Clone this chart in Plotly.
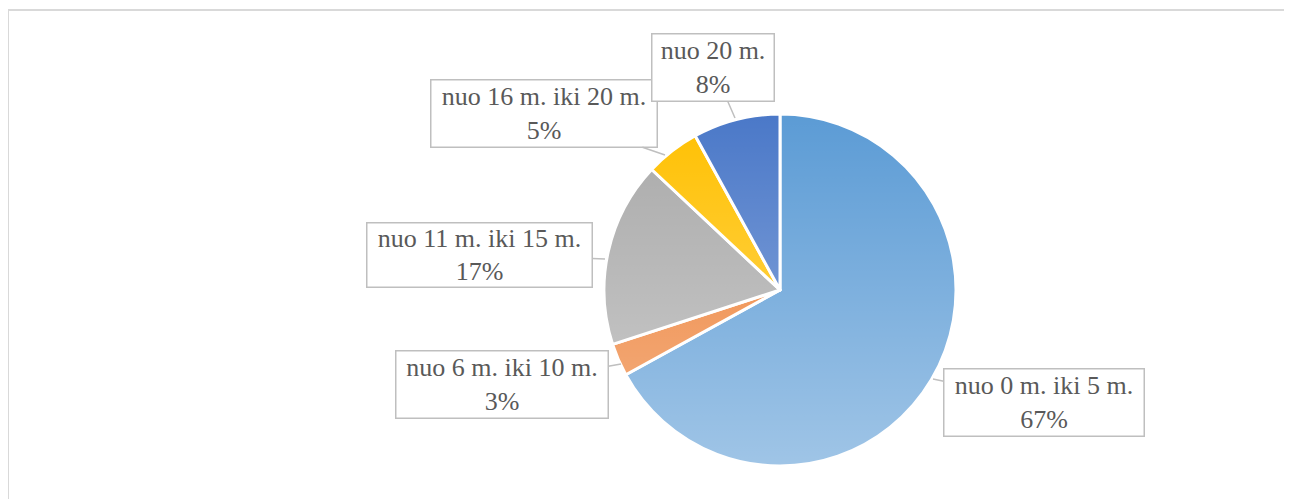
import base64
import plotly.graph_objects as go

# ---- data ----
labels = ["nuo 0 m. iki 5 m.", "nuo 6 m. iki 10 m.", "nuo 11 m. iki 15 m.",
          "nuo 16 m. iki 20 m.", "nuo 20 m."]
values = [67, 3, 17, 5, 8]
colors = ["#5b9bd5", "#ed7d31", "#a9a9a9", "#ffc000", "#4a78c8"]

W, H = 1292, 499
OFF = 8  # page body margin

def px(x):
    return (x - OFF) / W

def py(y):
    return 1 - (y - OFF) / H

# pie placement (screen pixels)
cx, cy, r = 780, 290, 176

fig = go.Figure()
fig.add_trace(go.Pie(
    labels=labels, values=values, sort=False, direction="clockwise", rotation=0,
    marker=dict(colors=colors, line=dict(color="white", width=3)),
    textinfo="none", hoverinfo="label+percent",
    domain=dict(x=[px(cx - r), px(cx + r)], y=[py(cy + r), py(cy - r)]),
    showlegend=False,
))

# gradient overlay (lightening toward the bottom, like the original fills)
svg = ('<svg xmlns="http://www.w3.org/2000/svg" width="100" height="100" '
       'viewBox="0 0 100 100" preserveAspectRatio="none"><defs>'
       '<linearGradient id="g" x1="0" y1="0" x2="0" y2="1">'
       '<stop offset="0" stop-color="#ffffff" stop-opacity="0"/>'
       '<stop offset="1" stop-color="#ffffff" stop-opacity="0.42"/>'
       '</linearGradient></defs><rect width="100" height="100" fill="url(#g)"/></svg>')
src = "data:image/svg+xml;base64," + base64.b64encode(svg.encode()).decode()
fig.add_layout_image(dict(source=src, xref="paper", yref="paper",
                          x=px(cx - r - 2), y=py(cy - r - 2),
                          sizex=(2 * r + 4) / W, sizey=(2 * r + 4) / H,
                          xanchor="left", yanchor="top", sizing="stretch",
                          layer="above"))

# label boxes: (tip x, tip y, box center x, box center y, box w, box h)
boxes = [
    (933, 379, 1044, 402.5, 202, 69),
    (621, 364, 502, 384.5, 214, 69),
    (605, 259, 479.5, 255, 227, 66),
    (665, 155, 544, 113.5, 228, 69),
    (735, 118, 713, 67.5, 124, 69),
]
bw = 1.5
for lab, val, (tx, ty, bx, by, w, h) in zip(labels, values, boxes):
    fig.add_annotation(
        x=px(tx), y=py(ty), xref="paper", yref="paper",
        ax=bx - tx, ay=by - ty, axref="pixel", ayref="pixel",
        text=f"{lab}<br>{val}%", showarrow=True, arrowhead=0,
        arrowcolor="#bfbfbf", arrowwidth=1.5,
        font=dict(family="Liberation Serif", size=26, color="#595959"),
        align="center", valign="middle",
        width=w - 2 * bw, height=h - 2 * bw, borderpad=0,
        bordercolor="#bfbfbf", borderwidth=bw, bgcolor="white",
    )

# chart area border
fig.add_shape(type="rect", xref="paper", yref="paper",
              x0=px(8), x1=1.05, y0=-0.05, y1=py(10),
              line=dict(color="#d9d9d9", width=2), layer="below")

fig.update_layout(width=W, height=H, margin=dict(l=0, r=0, t=0, b=0),
                  paper_bgcolor="white", plot_bgcolor="white", showlegend=False)

fig.write_html("out.html")
